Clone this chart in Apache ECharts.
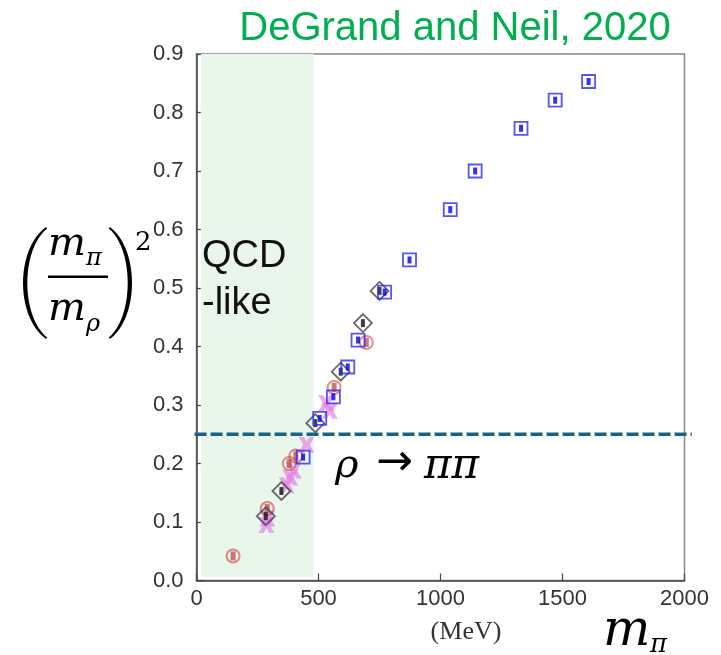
<!DOCTYPE html>
<html><head><meta charset="utf-8">
<script src="https://cdn.jsdelivr.net/npm/echarts@6/dist/echarts.min.js"></script>
<style>html,body{margin:0;padding:0;background:#fff}#c{width:721px;height:655px}</style>
</head><body><div id="c"></div>
<script>
// ---- data ----
const xTicks = [0, 500, 1000, 1500, 2000];
const yTicks = [0.0, 0.1, 0.2, 0.3, 0.4, 0.5, 0.6, 0.7, 0.8, 0.9];
const blueSquares = [[437,0.211],[505,0.277],[561,0.314],[620,0.365],[662,0.411],[771,0.493],[873,0.548],[1040,0.634],[1142,0.700],[1330,0.773],[1470,0.821],[1607,0.853]];
const blackDiamonds = [[284,0.110],[348,0.153],[487,0.269],[591,0.357],[682,0.440],[750,0.495]];
const redCircles = [[150,0.042],[290,0.123],[380,0.200],[407,0.213],[564,0.330],[696,0.407]];
const violetStars = [[287,0.095],[290,0.106],[370,0.163],[384,0.176],[398,0.188],[451,0.232],[532,0.303],[546,0.290]];
const shadeRange = [[18, 0.006], [480, 0.905]];
const thresholdY = 0.25;
const thresholdXRange = [-8, 2030];

const chart = echarts.init(document.getElementById('c'), null, {renderer:'canvas'});

const starPath = 'path://M0,0 L4.5,0 L7,4 L9.5,0 L14,0 L10,7 L14,14 L9.5,14 L7,10 L4.5,14 L0,14 L4,7 Z';

// parenthesis crescent polygon
function paren(x0, xMid, yTop, yBot, thick, dir) {
  const pts = [];
  const n = 24;
  function bez(t, a, b, c, d) { const u = 1 - t; return u*u*u*a + 3*u*u*t*b + 3*u*t*t*c + t*t*t*d; }
  const cxo = (8 * xMid - 2 * x0) / 6;
  const cxi = (8 * (xMid + dir * thick) - 2 * x0) / 6;
  for (let i = 0; i <= n; i++) { const t = i / n; pts.push([bez(t, x0, cxo, cxo, x0), bez(t, yTop, yTop + (yBot - yTop) * 0.2, yTop + (yBot - yTop) * 0.8, yBot)]); }
  for (let i = n; i >= 0; i--) { const t = i / n; pts.push([bez(t, x0 + dir * 1.2, cxi, cxi, x0 + dir * 1.2), bez(t, yTop + 1.5, yTop + (yBot - yTop) * 0.2, yTop + (yBot - yTop) * 0.8, yBot - 1.5)]); }
  return pts;
}

function txt(text, x, y, font, fill, align) {
  return { type: 'text', z: 100, style: { text: text, x: x, y: y, textAlign: align || 'left', textVerticalAlign: 'middle', fill: fill || '#000', font: font } };
}

const serifIt = 'italic 40px "DejaVu Serif"';

const option = {
  animation: false,
  backgroundColor: '#fff',
  grid: { left: 196.5, right: 36.5, top: 54, bottom: 74.5, show: true, borderColor: '#888', borderWidth: 1.5, backgroundColor: 'transparent' },
  xAxis: {
    type: 'value', min: xTicks[0], max: xTicks[xTicks.length-1], interval: xTicks[1]-xTicks[0],
    axisLine: { show: true, onZero: false, lineStyle: { color: '#444', width: 1.5 } },
    axisTick: { show: true, inside: true, length: 7, lineStyle: { color: '#444', width: 1.2 } },
    splitLine: { show: false },
    axisLabel: { fontSize: 22, color: '#333', fontFamily: '"Liberation Sans", Arial', margin: 7, formatter: v => String(v) }
  },
  yAxis: {
    type: 'value', min: yTicks[0], max: yTicks[yTicks.length-1], interval: 0.1,
    axisLine: { show: true, onZero: false, lineStyle: { color: '#444', width: 1.5 } },
    axisTick: { show: true, inside: true, length: 7, lineStyle: { color: '#444', width: 1.2 } },
    splitLine: { show: false },
    axisLabel: { fontSize: 22, color: '#333', fontFamily: '"Liberation Sans", Arial', margin: 13, formatter: v => v.toFixed(1) }
  },
  series: [
    { type: 'scatter', data: [], z: 1, clip: false, silent: true,
      markArea: { silent: true, itemStyle: { color: '#e8f6ec' }, label: { show: false },
        data: [[{ coord: shadeRange[0] }, { coord: shadeRange[1] }]] } },
    // violet stars
    { type: 'scatter', data: violetStars, z: 3, symbol: starPath, symbolSize: 16,
      itemStyle: { color: 'rgba(230,120,230,0.8)' } },
    // red circles
    { type: 'scatter', data: redCircles, z: 4, symbol: 'circle', symbolSize: 13,
      itemStyle: { color: 'rgba(255,255,255,0)', borderColor: 'rgba(215,70,70,0.8)', borderWidth: 2 } },
    { type: 'scatter', data: redCircles, z: 4, symbol: 'rect', symbolSize: [5, 9],
      itemStyle: { color: 'rgba(185,60,60,0.85)' } },
    // black diamonds
    { type: 'scatter', data: blackDiamonds, z: 5, symbol: 'diamond', symbolSize: 18,
      itemStyle: { color: 'rgba(255,255,255,0)', borderColor: '#444', borderWidth: 1.8 } },
    { type: 'scatter', data: blackDiamonds, z: 5, symbol: 'rect', symbolSize: [4, 8],
      itemStyle: { color: '#111' } },
    // blue squares
    { type: 'scatter', data: blueSquares, z: 6, symbol: 'rect', symbolSize: 13,
      itemStyle: { color: 'rgba(255,255,255,0)', borderColor: '#2a2aff', borderWidth: 1.8 } },
    { type: 'scatter', data: blueSquares, z: 6, symbol: 'rect', symbolSize: [4, 7],
      itemStyle: { color: '#0000ee' } }
  ],
  graphic: [
    txt('DeGrand and Neil, 2020', 455, 29, '40px "Liberation Sans", Arial', '#00b050', 'center'),
    txt('QCD', 202, 257, '38px "Liberation Sans", Arial', '#111'),
    txt('-like', 202, 304, '38px "Liberation Sans", Arial', '#111'),
    txt('ρ', 335, 467, 'italic 40px "DejaVu Serif"'),
    txt('→', 376, 464, '44px "DejaVu Sans"'),
    txt('ππ', 424, 467, 'italic 42px "DejaVu Serif"'),
    // x-axis title
    txt('(MeV)', 466, 632, '26px "Liberation Serif", "Times New Roman"', '#333', 'center'),
    txt('m', 603, 632, 'italic 50px "DejaVu Serif"'),
    txt('π', 650, 645, 'italic 26px "DejaVu Serif"'),
    // y-axis title
    { type: 'polygon', z: 100, shape: { points: paren(46, 23, 227, 339, 4, 1) }, style: { fill: '#000' } },
    { type: 'polygon', z: 100, shape: { points: paren(110, 132, 227, 339, 4, -1) }, style: { fill: '#000' } },
    txt('m', 48, 245, serifIt),
    txt('π', 86, 259, 'italic 24px "DejaVu Serif"'),
    { type: 'rect', z: 100, shape: { x: 48, y: 275.5, width: 60, height: 2.6 }, style: { fill: '#000' } },
    txt('m', 48, 310, serifIt),
    txt('ρ', 86, 325, 'italic 24px "DejaVu Serif"'),
    txt('2', 135, 243, '26px "DejaVu Serif"')
  ]
};
chart.setOption(option);

// threshold dashed line at (m_pi/m_rho)^2 = 0.25, placed through the axis scales
const p0 = chart.convertToPixel({ gridIndex: 0 }, [thresholdXRange[0], thresholdY]);
const p1 = chart.convertToPixel({ gridIndex: 0 }, [thresholdXRange[1], thresholdY]);
option.graphic.push({ type: 'line', z: 2, silent: true,
  shape: { x1: p0[0], y1: p0[1], x2: p1[0], y2: p1[1] },
  style: { stroke: '#1d6285', lineWidth: 3.5, lineDash: [12, 4] } });
chart.setOption({ graphic: option.graphic });
</script>
</body></html>
